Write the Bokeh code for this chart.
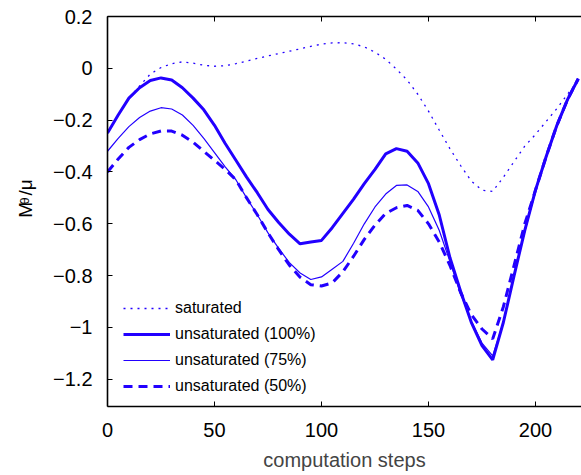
import math
from bokeh.plotting import figure
from bokeh.layouts import row
from bokeh.models import (ColumnDataSource, FixedTicker, LinearAxis, Range1d,
                          CustomJSTickFormatter, Legend, LegendItem)
from bokeh.core.properties import value
from bokeh.embed import file_html
from bokeh.resources import INLINE

# ---------------- data ----------------
steps = [0, 5, 10, 15, 20, 25, 30, 35, 40, 45, 50, 55, 60, 65, 70, 75, 80, 85, 90, 95,
         100, 105, 110, 115, 120, 125, 130, 135, 140, 145, 150, 155, 160, 165, 170, 175,
         180, 185, 190, 195, 200, 205, 210, 215, 220]

saturated = [-0.25, -0.18, -0.115, -0.068, -0.022, 0.003, 0.018, 0.025, 0.02, 0.012,
             0.008, 0.01, 0.018, 0.028, 0.038, 0.048, 0.057, 0.066, 0.075, 0.085,
             0.093, 0.098, 0.099, 0.094, 0.083, 0.062, 0.035, -0.003, -0.045, -0.1,
             -0.165, -0.238, -0.31, -0.375, -0.435, -0.47, -0.475, -0.42, -0.36, -0.30,
             -0.255, -0.205, -0.155, -0.10, -0.045]

unsat_100 = [-0.25, -0.18, -0.115, -0.075, -0.047, -0.037, -0.045, -0.075, -0.115, -0.16,
             -0.22, -0.29, -0.355, -0.42, -0.48, -0.545, -0.595, -0.64, -0.677, -0.67,
             -0.664, -0.615, -0.56, -0.505, -0.445, -0.39, -0.33, -0.31, -0.32, -0.365,
             -0.445, -0.565, -0.73, -0.86, -0.98, -1.07, -1.125, -0.98, -0.80, -0.625,
             -0.47, -0.34, -0.22, -0.12, -0.04]

unsat_75 = [-0.32, -0.27, -0.225, -0.19, -0.165, -0.152, -0.157, -0.18, -0.22, -0.27,
            -0.325, -0.38, -0.43, -0.5, -0.565, -0.635, -0.695, -0.75, -0.79, -0.815,
            -0.805, -0.775, -0.745, -0.675, -0.6, -0.535, -0.485, -0.452, -0.45, -0.475,
            -0.535, -0.625, -0.745, -0.87, -0.975, -1.06, -1.11, -0.98, -0.80, -0.63,
            -0.475, -0.345, -0.225, -0.125, -0.04]

unsat_50 = [-0.4, -0.35, -0.305, -0.275, -0.253, -0.242, -0.242, -0.258, -0.285, -0.32,
            -0.355, -0.39, -0.43, -0.5, -0.565, -0.635, -0.7, -0.76, -0.806, -0.835,
            -0.84, -0.828, -0.785, -0.725, -0.66, -0.605, -0.56, -0.538, -0.529, -0.548,
            -0.6, -0.67, -0.76, -0.865, -0.95, -1.006, -1.044, -0.92, -0.76, -0.6,
            -0.47, -0.34, -0.22, -0.12, -0.04]

series_labels = ["saturated", "unsaturated (100%)", "unsaturated (75%)", "unsaturated (50%)"]
x_ticks = [0, 50, 100, 150, 200]
y_ticks = [-1.2, -1.0, -0.8, -0.6, -0.4, -0.2, 0.0, 0.2]
x_label = "computation steps"
y_label_parts = ["M", "θ", "/μ"]

# ---------------- layout constants ----------------
FONT = "Liberation Sans"
BLUE = "#2200ff"
W, H = 581, 475
SIDE_W = 40            # narrow strip holding the rotated y-axis label
FRAME_LEFT = 107
FW, FH = W - FRAME_LEFT, 390

# ---------------- main figure ----------------
p = figure(frame_width=FW, frame_height=FH, output_backend="svg", toolbar_location=None,
           x_range=Range1d(0, 221.5), y_range=Range1d(-1.305, 0.2),
           min_border_left=FRAME_LEFT - SIDE_W, min_border_right=0,
           min_border_top=16, min_border_bottom=H - 16 - FH,
           x_axis_location=None, y_axis_location=None)
p.outline_line_color = None
p.grid.visible = False
p.background_fill_color = "white"
p.border_fill_color = "white"

src = ColumnDataSource(dict(x=steps, s=saturated, u100=unsat_100, u75=unsat_75, u50=unsat_50))

r_sat = p.line("x", "s", source=src, line_color=BLUE, line_width=1.3, line_dash="2 5")
r_100 = p.line("x", "u100", source=src, line_color=BLUE, line_width=3)
r_75 = p.line("x", "u75", source=src, line_color=BLUE, line_width=1.2)
r_50 = p.line("x", "u50", source=src, line_color=BLUE, line_width=3, line_dash="9 6")

fmt = CustomJSTickFormatter(code="""
    if (Math.abs(tick) < 1e-9) return "0";
    var s = Math.abs(tick).toFixed(1).replace(/\\.0$/, "");
    return (tick < 0 ? "\\u2212" : "") + s;
""")

def style_axis(ax, ticks, labels=True):
    ax.ticker = FixedTicker(ticks=ticks)
    ax.axis_line_width = 1.6
    ax.axis_line_color = "black"
    ax.major_tick_in = 5
    ax.major_tick_out = 0
    ax.major_tick_line_width = 1
    ax.minor_tick_line_color = None
    ax.major_label_text_font = FONT
    ax.major_label_text_font_size = "20px"
    ax.major_label_text_color = "black"
    if not labels:
        ax.major_label_text_font_size = "0px"
        ax.major_label_text_alpha = 0

left = LinearAxis(formatter=fmt)
style_axis(left, y_ticks)
left.major_label_standoff = 15
p.add_layout(left, "left")

below = LinearAxis()
style_axis(below, x_ticks)
below.major_label_standoff = 16
below.axis_label = x_label
below.axis_label_text_font = FONT
below.axis_label_text_font_size = "20px"
below.axis_label_text_font_style = "normal"
below.axis_label_standoff = 9
p.add_layout(below, "below")

above = LinearAxis()
style_axis(above, x_ticks, labels=False)
p.add_layout(above, "above")

legend = Legend(items=[LegendItem(label=series_labels[0], renderers=[r_sat]),
                       LegendItem(label=series_labels[1], renderers=[r_100]),
                       LegendItem(label=series_labels[2], renderers=[r_75]),
                       LegendItem(label=series_labels[3], renderers=[r_50])],
                location=(16, 10))
legend.border_line_color = None
legend.background_fill_alpha = 0
legend.padding = 0
legend.margin = 0
legend.spacing = 6
legend.glyph_width = 47
legend.glyph_height = 20
legend.label_height = 20
legend.label_standoff = 5
legend.label_text_font = FONT
legend.label_text_font_size = "16px"
legend.label_text_color = "black"
p.add_layout(legend)

# ---------------- side strip with rotated y label ----------------
side = figure(width=SIDE_W, height=H, output_backend="svg", toolbar_location=None,
              x_range=Range1d(0, SIDE_W), y_range=Range1d(H, 0),
              min_border=0, x_axis_location=None, y_axis_location=None)
side.outline_line_color = None
side.grid.visible = False
side.background_fill_color = "white"
side.border_fill_color = "white"

ang = math.pi / 2
lab_src = ColumnDataSource(dict(x=[25, 25], y=[245, 218],
                                t=[y_label_parts[0], y_label_parts[2]]))
side.text("x", "y", text="t", source=lab_src, angle=ang, text_font=value(FONT),
          text_font_size="19px", text_align="left", text_baseline="alphabetic",
          text_color="black")
sub_src = ColumnDataSource(dict(x=[24], y=[229], t=[y_label_parts[1]]))
side.text("x", "y", text="t", source=sub_src, angle=ang, text_font=value(FONT),
          text_font_size="13px", text_align="left", text_baseline="alphabetic",
          text_color="black")

layout = row(side, p, spacing=0)
open("out.html", "w").write(file_html(layout, INLINE))
